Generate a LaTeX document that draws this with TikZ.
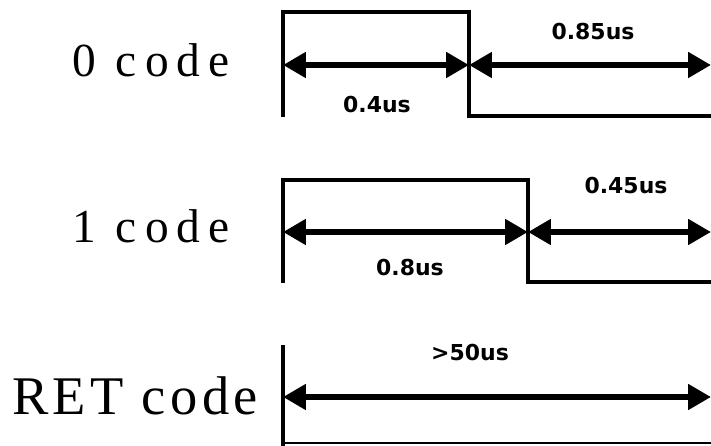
\documentclass[tikz,border=0pt]{standalone}
\usepackage{fontspec}
\setmainfont{Liberation Serif}
\newfontfamily\labelfont{DejaVu Sans}
\usetikzlibrary{arrows.meta,positioning}
\tikzstyle{wave}=[line width=2.4pt,line join=miter]
\tikzstyle{span}=[{Triangle[length=13pt,width=14pt]}-{Triangle[length=13pt,width=14pt]},line width=3.4pt]
\tikzstyle{code label}=[font=\fontsize{27}{32}\selectfont\addfontfeature{LetterSpace=17},inner sep=0pt,anchor=base west]
\tikzstyle{ret label}=[font=\fontsize{31}{36}\selectfont\addfontfeature{LetterSpace=8},inner sep=0pt,anchor=base west]
\tikzstyle{time label}=[font=\labelfont\bfseries\fontsize{12.5}{15}\selectfont,inner sep=0pt]

\begin{document}
\begin{tikzpicture}[x=0.02cm,y=-0.02cm]
  \useasboundingbox (0,0) rectangle (711,446);

  \coordinate (zBase) at (283,117);
  \coordinate (zRise) at (283,12);
  \coordinate (zFall) at (469,12);
  \coordinate (zLow) at (469,116);
  \coordinate (zEnd) at (712,116);
  \draw[wave] (zBase) -- (zRise) -- (zFall) -- (zLow) -- (zEnd);
  \coordinate (zA) at (283,65);
  \coordinate (zB) at (469,65);
  \coordinate (zC) at (711,65);
  \draw[span] (zA) -- (zB);
  \draw[span] (zB) -- (zC);
  \node[code label] (zeroCode) at (72,77) {0 code};
  \node[time label] (zeroHigh) at (377,105) {0.4us};
  \node[time label] (zeroLow) at (593,32) {0.85us};

  \coordinate (oBase) at (283,283);
  \coordinate (oRise) at (283,180);
  \coordinate (oFall) at (528,180);
  \coordinate (oLow) at (528,282);
  \coordinate (oEnd) at (712,282);
  \draw[wave] (oBase) -- (oRise) -- (oFall) -- (oLow) -- (oEnd);
  \coordinate (oA) at (283,232);
  \coordinate (oB) at (528,232);
  \coordinate (oC) at (711,232);
  \draw[span] (oA) -- (oB);
  \draw[span] (oB) -- (oC);
  \node[code label] (oneCode) at (72,243) {1 code};
  \node[time label] (oneHigh) at (410,268) {0.8us};
  \node[time label] (oneLow) at (626,186) {0.45us};

  \coordinate (rTop) at (283,345);
  \coordinate (rBase) at (283,443);
  \coordinate (rEnd) at (712,443);
  \draw[wave] (rTop) -- (283,447);
  \draw[line width=1.6pt] (rBase) -- (rEnd);
  \coordinate (rA) at (283,397);
  \coordinate (rC) at (711,397);
  \draw[span] (rA) -- (rC);
  \node[ret label] (retCode) at (12,415) {RET code};
  \node[time label] (retTime) at (470,353) {>50us};
\end{tikzpicture}
\end{document}
